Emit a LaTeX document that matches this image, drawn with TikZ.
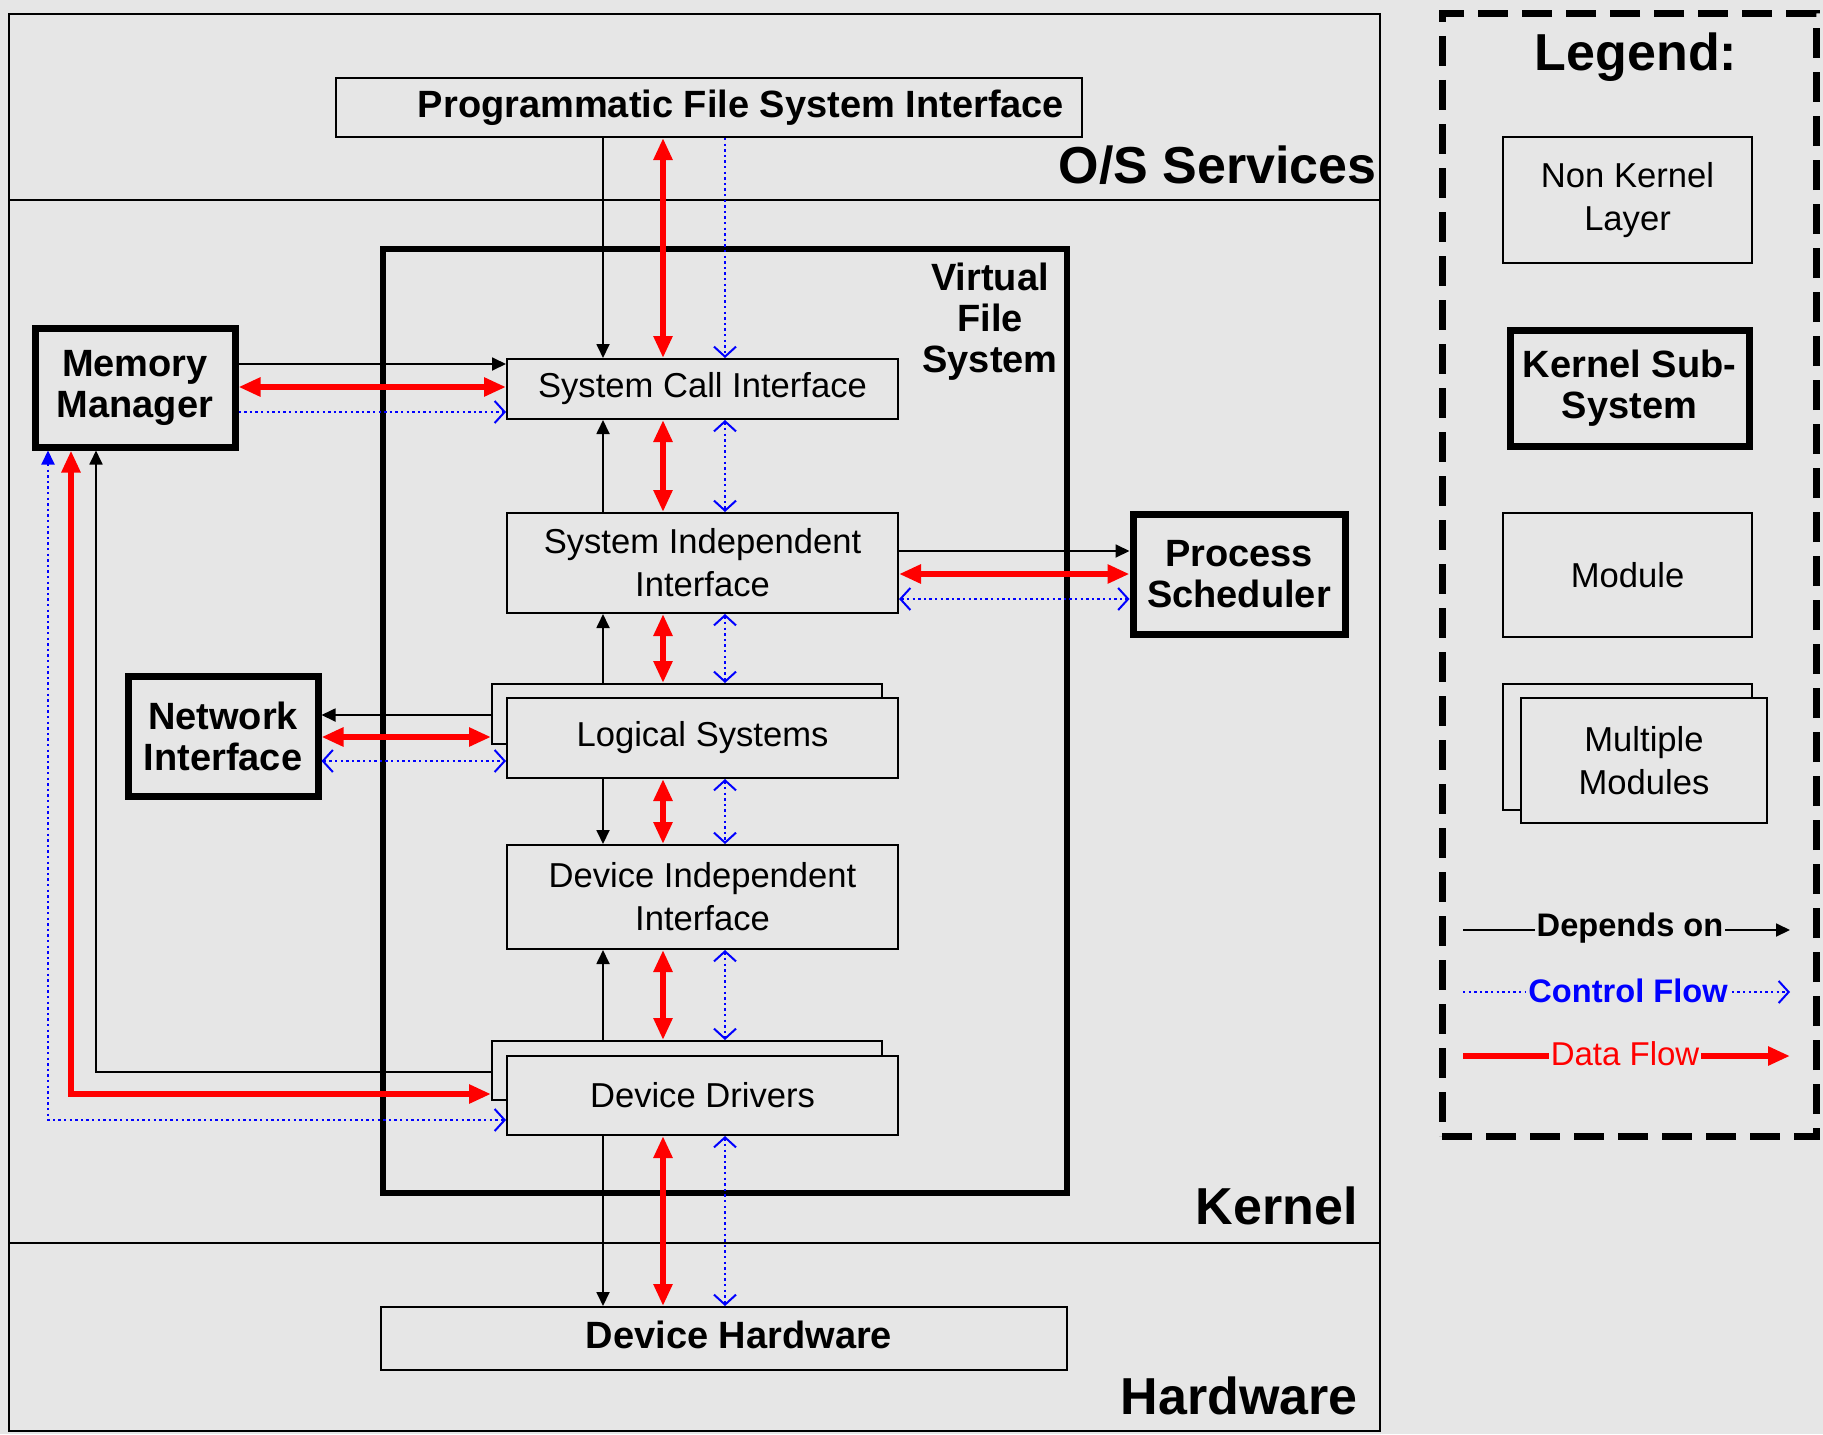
\documentclass[tikz,border=0pt]{standalone}
\usepackage{fontspec}
\setmainfont{Liberation Sans}
\usetikzlibrary{arrows.meta}
\definecolor{bgc}{RGB}{230,230,230}
\definecolor{dred}{RGB}{255,0,0}
\definecolor{cblue}{RGB}{0,0,255}
\newcommand\myBig{\fontsize{26}{30}\selectfont\bfseries}
\newcommand\myHead{\fontsize{19}{20.5}\selectfont\bfseries}
\newcommand\myMod{\fontsize{17.3}{21.5}\selectfont}
\newcommand\myLeg{\fontsize{16.3}{18}\selectfont\bfseries}
\newcommand\myLegR{\fontsize{16.5}{18}\selectfont}
\begin{document}
\begin{tikzpicture}[x=0.5pt,y=-0.5pt,
  sz/.style 2 args={minimum width=#1pt,minimum height=#2pt},
  thinbox/.style={draw=black,line width=1pt,inner sep=0pt,align=center,font=\myMod},
  backbox/.style={draw=black,line width=1pt,inner sep=0pt},
  frontbox/.style={thinbox,fill=bgc},
  kbox/.style={draw=black,line width=3.5pt,inner sep=0pt,align=center,font=\myHead},
  plainbox/.style={draw=black,line width=1pt,inner sep=0pt,align=center,font=\myHead},
  depline/.style={draw=black,line width=0.9pt,-{Triangle[length=7pt,width=6.5pt]}},
  dataflow/.style={draw=dred,line width=2.8pt,{Triangle[length=11pt,width=9pt]}-{Triangle[length=11pt,width=9pt]}},
  dataone/.style={draw=dred,line width=2.8pt,-{Triangle[length=11pt,width=9pt]}},
  ctrlflow/.style={draw=cblue,line width=1pt,dash pattern=on 1.2pt off 1.6pt,-{Straight Barb[length=5pt,width=11pt]}},
  ctrlboth/.style={draw=cblue,line width=1pt,dash pattern=on 1.2pt off 1.6pt,{Straight Barb[length=5pt,width=11pt]}-{Straight Barb[length=5pt,width=11pt]}},
  ctrlmm/.style={draw=cblue,line width=1pt,dash pattern=on 1.2pt off 1.6pt,{Triangle[length=7pt,width=6.5pt]}-{Straight Barb[length=5pt,width=11pt]}},
  biglabel/.style={font=\myBig,inner sep=0pt},
]
\fill[bgc] (0,0) rectangle (1823,1434);
\useasboundingbox (0,0) rectangle (1823,1434);

% layers
\draw[line width=1pt] (9,14) rectangle (1380,1431);
\draw[line width=1pt] (9,200) -- (1380,200);
\draw[line width=1pt] (9,1243) -- (1380,1243);
\node[biglabel,anchor=base east] (osl) at (1377,183) {O/S Services};
\node[biglabel,anchor=base east] (kl) at (1358,1224) {Kernel};
\node[biglabel,anchor=base east] (hl) at (1358,1414) {Hardware};

% boxes
\node[plainbox,sz={373}{29.5}] (PFS) at (709,107.5) {\hspace*{32pt}Programmatic File System Interface};
\node[draw=black,line width=3pt,inner sep=0pt,sz={342}{472}] (VFS) at (725,721) {};
\node[font=\myHead,align=center] (VFSl) at (990,322) {Virtual\\File\\System};
\node[thinbox,sz={195.5}{30}] (SCI) at (702.5,389) {System Call Interface};
\node[thinbox,sz={195.5}{50}] (SII) at (702.5,563) {System Independent\\Interface};
\node[backbox,sz={195}{30}] (LSb) at (687,714) {};
\node[frontbox,sz={195.5}{40}] (LS) at (702.5,738) {Logical Systems};
\node[thinbox,sz={195.5}{52}] (DII) at (702.5,897) {Device Independent\\Interface};
\node[backbox,sz={195}{29.5}] (DDb) at (687,1070.5) {};
\node[frontbox,sz={195.5}{39.5}] (DD) at (702.5,1095.5) {Device Drivers};
\node[plainbox,sz={343}{31.5}] (DH) at (724,1338.5) {\hspace*{15pt}\raisebox{3.5pt}{Device Hardware}};
\node[kbox,sz={100}{59.5}] (MM) at (135,387.5) {Memory\\Manager};
\node[kbox,sz={95}{60}] (NI) at (223,736) {Network\\Interface};
\node[kbox,sz={106}{60}] (PS) at (1239,574) {Process\\Scheduler};

% lanes
\coordinate (xb) at (603,0);
\coordinate (xr) at (663,0);
\coordinate (xc) at (725,0);

% vertical connectors
\draw[depline] (PFS.south -| xb) -- (SCI.north -| xb);
\draw[dataflow] (PFS.south -| xr) -- (SCI.north -| xr);
\draw[ctrlflow] (PFS.south -| xc) -- (SCI.north -| xc);

\draw[depline] (SII.north -| xb) -- (SCI.south -| xb);
\draw[dataflow] (SCI.south -| xr) -- (SII.north -| xr);
\draw[ctrlboth] (SCI.south -| xc) -- (SII.north -| xc);

\draw[depline] (LSb.north -| xb) -- (SII.south -| xb);
\draw[dataflow] (SII.south -| xr) -- (LSb.north -| xr);
\draw[ctrlboth] (SII.south -| xc) -- (LSb.north -| xc);

\draw[depline] (LS.south -| xb) -- (DII.north -| xb);
\draw[dataflow] (LS.south -| xr) -- (DII.north -| xr);
\draw[ctrlboth] (LS.south -| xc) -- (DII.north -| xc);

\draw[depline] (DDb.north -| xb) -- (DII.south -| xb);
\draw[dataflow] (DII.south -| xr) -- (DDb.north -| xr);
\draw[ctrlboth] (DII.south -| xc) -- (DDb.north -| xc);

\draw[depline] (DD.south -| xb) -- (DH.north -| xb);
\draw[dataflow] (DD.south -| xr) -- (DH.north -| xr);
\draw[ctrlboth] (DD.south -| xc) -- (DH.north -| xc);

% SII - PS
\coordinate (ps1) at (0,551);
\coordinate (ps2) at (0,574);
\coordinate (ps3) at (0,599);
\draw[depline] (SII.east |- ps1) -- (PS.west |- ps1);
\draw[dataflow] (SII.east |- ps2) -- (PS.west |- ps2);
\draw[ctrlboth] (SII.east |- ps3) -- (PS.west |- ps3);

% LS - NI
\coordinate (ni1) at (0,715);
\coordinate (ni2) at (0,737);
\coordinate (ni3) at (0,761);
\draw[depline] (LSb.west |- ni1) -- (NI.east |- ni1);
\draw[dataflow] (NI.east |- ni2) -- (LSb.west |- ni2);
\draw[ctrlboth] (NI.east |- ni3) -- (LS.west |- ni3);

% MM - SCI
\coordinate (mm1) at (0,364);
\coordinate (mm2) at (0,387);
\coordinate (mm3) at (0,412);
\draw[depline] (MM.east |- mm1) -- (SCI.west |- mm1);
\draw[dataflow] (MM.east |- mm2) -- (SCI.west |- mm2);
\draw[ctrlflow] (MM.east |- mm3) -- (SCI.west |- mm3);

% DD - MM
\coordinate (dm1) at (96,1072);
\coordinate (dm2) at (71,1094);
\coordinate (dm3) at (48,1120);
\draw[depline] (DDb.west |- dm1) -| (MM.south -| dm1);
\draw[dataflow] (MM.south -| dm2) |- (DDb.west |- dm2);
\draw[ctrlmm] (MM.south -| dm3) |- (DD.west |- dm3);

% legend
\node[draw=black,line width=3.5pt,dash pattern=on 15pt off 7pt,inner sep=0pt,sz={187}{561}] (LEG) at (1629,575) {};
\node[font=\myBig,anchor=base] (legt) at (1636,71) {Legend:};
\node[thinbox,sz={124.5}{63}] (LNK) at (1627.5,200) {Non Kernel\\Layer};
\node[kbox,sz={119.5}{58}] (LKS) at (1629.5,388) {Kernel Sub-\\System};
\node[thinbox,sz={124.5}{62}] (LMO) at (1627.5,575) {Module};
\node[backbox,sz={124.5}{63}] (LMMb) at (1627.5,747) {};
\node[frontbox,sz={123}{62.5}] (LMM) at (1644,760.5) {Multiple\\Modules};

\coordinate (ld1) at (1463,930);
\coordinate (ld2) at (1790,930);
\coordinate (lc1) at (1463,992);
\coordinate (lc2) at (1790,992);
\coordinate (lr1) at (1463,1056);
\coordinate (lr2) at (1790,1056);
\draw[depline] (ld1) -- (ld2);
\draw[ctrlflow] (lc1) -- (lc2);
\draw[dataone] (lr1) -- (lr2);
\node[fill=bgc,font=\myLeg,inner sep=1pt] (ldt) at (1630,928) {Depends on};
\node[fill=bgc,font=\myLeg,text=cblue,inner sep=1pt] (lct) at (1628,991) {Control Flow};
\node[fill=bgc,font=\myLegR,text=dred,inner sep=1pt] (lrt) at (1625,1054) {Data Flow};
\end{tikzpicture}
\end{document}
